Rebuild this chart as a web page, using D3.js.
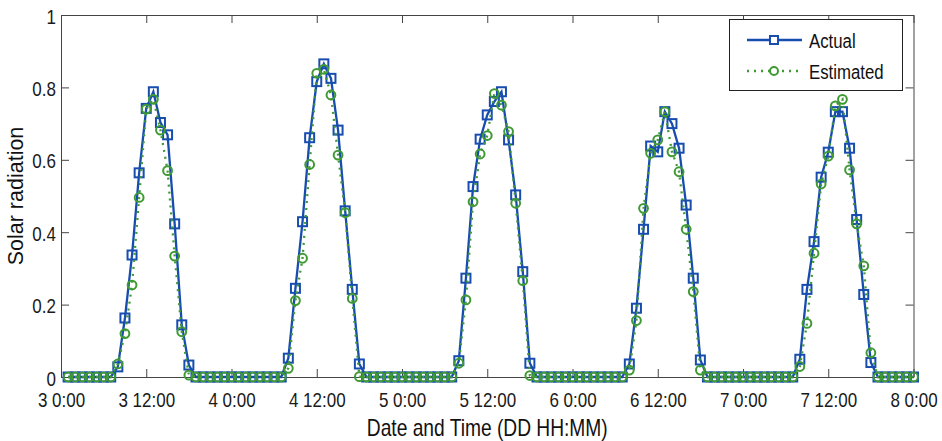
<!DOCTYPE html>
<html>
<head>
<meta charset="utf-8">
<script src="https://cdn.jsdelivr.net/npm/d3@7"></script>
<style>
	body { margin: 0; background: #fff; }
	svg { display: block; font-family: "Liberation Sans", Arial, sans-serif; }
</style>
</head>
<body>
<svg id="chart" width="942" height="441"></svg>
<script>
// hours counted from 3 0:00, one sample per hour (3 1:00 .. 8 0:00)
var hours = d3.range(1, 121);

var actual = [
	0, 0, 0, 0, 0, 0, 0,
	0.028, 0.163, 0.337, 0.564, 0.742, 0.788, 0.703, 0.669, 0.423, 0.144, 0.033,
	0, 0, 0, 0, 0, 0, 0, 0, 0, 0, 0, 0, 0,
	0.052, 0.245, 0.429, 0.661, 0.816, 0.865, 0.825, 0.682, 0.459, 0.242, 0.036,
	0, 0, 0, 0, 0, 0, 0, 0, 0, 0, 0, 0, 0,
	0.045, 0.273, 0.526, 0.657, 0.724, 0.761, 0.788, 0.655, 0.503, 0.291, 0.038,
	0, 0, 0, 0, 0, 0, 0, 0, 0, 0, 0, 0, 0,
	0.036, 0.190, 0.408, 0.638, 0.622, 0.733, 0.700, 0.632, 0.475, 0.273, 0.047,
	0, 0, 0, 0, 0, 0, 0, 0, 0, 0, 0, 0, 0,
	0.049, 0.242, 0.374, 0.552, 0.621, 0.733, 0.733, 0.632, 0.435, 0.228, 0.040,
	0, 0, 0, 0, 0, 0
];

var estimated = [
	0, 0, 0, 0, 0, 0, 0,
	0.036, 0.120, 0.254, 0.496, 0.740, 0.767, 0.682, 0.570, 0.334, 0.125, 0.005,
	0, 0, 0, 0, 0, 0, 0, 0, 0, 0, 0, 0, 0,
	0.024, 0.211, 0.328, 0.587, 0.839, 0.850, 0.779, 0.613, 0.454, 0.217, 0.001,
	0, 0, 0, 0, 0, 0, 0, 0, 0, 0, 0, 0, 0,
	0.038, 0.213, 0.484, 0.616, 0.667, 0.783, 0.751, 0.678, 0.480, 0.266, 0.004,
	0, 0, 0, 0, 0, 0, 0, 0, 0, 0, 0, 0, 0,
	0.019, 0.156, 0.466, 0.618, 0.655, 0.733, 0.622, 0.567, 0.408, 0.236, 0.019,
	0, 0, 0, 0, 0, 0, 0, 0, 0, 0, 0, 0, 0,
	0.029, 0.148, 0.342, 0.533, 0.610, 0.749, 0.767, 0.572, 0.423, 0.307, 0.067,
	0, 0, 0, 0, 0, 0
];

var xTickHours = [0, 12, 24, 36, 48, 60, 72, 84, 96, 108, 120];
var xTickLabels = ["3 0:00", "3 12:00", "4 0:00", "4 12:00", "5 0:00", "5 12:00",
	"6 0:00", "6 12:00", "7 0:00", "7 12:00", "8 0:00"];
var yTicks = [0, 0.2, 0.4, 0.6, 0.8, 1];
var yTickLabels = ["0", "0.2", "0.4", "0.6", "0.8", "1"];

var blue = "#184db0";
var green = "#3f9a34";
var axisColor = "#444";

var pLeft = 61, pRight = 913.5, pTop = 15, pBottom = 377;
var svg = d3.select("#chart");

var x = d3.scaleLinear().domain([0, 120]).range([pLeft, pRight]);
var y = d3.scaleLinear().domain([0, 1]).range([pBottom, pTop]);

function styleAxis(g) {
	g.select(".domain").attr("stroke", axisColor).attr("stroke-width", 1);
	g.selectAll(".tick line").attr("stroke", axisColor).attr("stroke-width", 1);
	g.selectAll("text").attr("fill", "#1a1a1a").style("font-size", "20px");
}

var xBottom = svg.append("g").attr("transform", "translate(0," + pBottom + ")")
	.call(d3.axisBottom(x).tickValues(xTickHours)
		.tickFormat(function(d, i) { return xTickLabels[i]; })
		.tickSizeInner(-8).tickSizeOuter(0).tickPadding(15.5));
styleAxis(xBottom);
xBottom.selectAll("text").attr("transform", "scale(0.85,1)");

var xTop = svg.append("g").attr("transform", "translate(0," + pTop + ")")
	.call(d3.axisTop(x).tickValues(xTickHours).tickFormat("")
		.tickSizeInner(-8).tickSizeOuter(0));
styleAxis(xTop);

var yLeft = svg.append("g").attr("transform", "translate(" + pLeft + ",0)")
	.call(d3.axisLeft(y).tickValues(yTicks)
		.tickFormat(function(d, i) { return yTickLabels[i]; })
		.tickSizeInner(-8).tickSizeOuter(0).tickPadding(6));
styleAxis(yLeft);
yLeft.selectAll("text").attr("transform", "scale(0.85,1)").attr("dy", "0.4em");

var yRight = svg.append("g").attr("transform", "translate(" + pRight + ",0)")
	.call(d3.axisRight(y).tickValues(yTicks).tickFormat("")
		.tickSizeInner(-8).tickSizeOuter(0));
styleAxis(yRight);

// axis titles
svg.append("text")
	.attr("transform", "translate(" + ((pLeft + pRight) / 2) + ",436) scale(0.8,1)")
	.attr("text-anchor", "middle")
	.style("font-size", "24px").attr("fill", "#111")
	.text("Date and Time (DD HH:MM)");

svg.append("text")
	.attr("transform", "translate(23," + ((pTop + pBottom) / 2) + ") rotate(-90)")
	.attr("text-anchor", "middle")
	.style("font-size", "21.5px").attr("fill", "#111")
	.text("Solar radiation");

// series
var actualPts = hours.map(function(h, i) { return { h: h, v: actual[i] }; });
var estPts = hours.map(function(h, i) { return { h: h, v: estimated[i] }; });

var line = d3.line()
	.x(function(d) { return x(d.h); })
	.y(function(d) { return y(d.v); });

svg.append("path").datum(actualPts)
	.attr("d", line).attr("fill", "none")
	.attr("stroke", blue).attr("stroke-width", 2.3);

svg.selectAll("rect.act").data(actualPts).enter().append("rect")
	.attr("class", "act")
	.attr("x", function(d) { return x(d.h) - 4.5; })
	.attr("y", function(d) { return y(d.v) - 4.5; })
	.attr("width", 9).attr("height", 9)
	.attr("fill", "none").attr("stroke", blue).attr("stroke-width", 2);

svg.append("path").datum(estPts)
	.attr("d", line).attr("fill", "none")
	.attr("stroke", green).attr("stroke-width", 2.3)
	.attr("stroke-dasharray", "2,5");

svg.selectAll("circle.est").data(estPts).enter().append("circle")
	.attr("class", "est")
	.attr("cx", function(d) { return x(d.h); })
	.attr("cy", function(d) { return y(d.v); })
	.attr("r", 4.4)
	.attr("fill", "none").attr("stroke", green).attr("stroke-width", 2);

// legend
var lg = svg.append("g");
lg.append("rect").attr("x", 729.5).attr("y", 19.5).attr("width", 173).attr("height", 71)
	.attr("fill", "#fff").attr("stroke", "#222").attr("stroke-width", 1);

var items = [
	{ name: "Actual", color: blue, dash: null, shape: "square", yy: 40 },
	{ name: "Estimated", color: green, dash: "2,5", shape: "circle", yy: 71 }
];
items.forEach(function(it) {
	lg.append("line").attr("x1", 747).attr("x2", 802).attr("y1", it.yy).attr("y2", it.yy)
		.attr("stroke", it.color).attr("stroke-width", 2.3)
		.attr("stroke-dasharray", it.dash);
	if (it.shape === "square") {
		lg.append("rect").attr("x", 774 - 4).attr("y", it.yy - 4).attr("width", 8).attr("height", 8)
			.attr("fill", "#fff").attr("stroke", it.color).attr("stroke-width", 2);
	} else {
		lg.append("circle").attr("cx", 774).attr("cy", it.yy).attr("r", 4)
			.attr("fill", "#fff").attr("stroke", it.color).attr("stroke-width", 2);
	}
	lg.append("text")
		.attr("transform", "translate(809," + (it.yy + 8) + ") scale(0.8,1)")
		.style("font-size", "21px").attr("fill", "#111")
		.text(it.name);
});
</script>
</body>
</html>
